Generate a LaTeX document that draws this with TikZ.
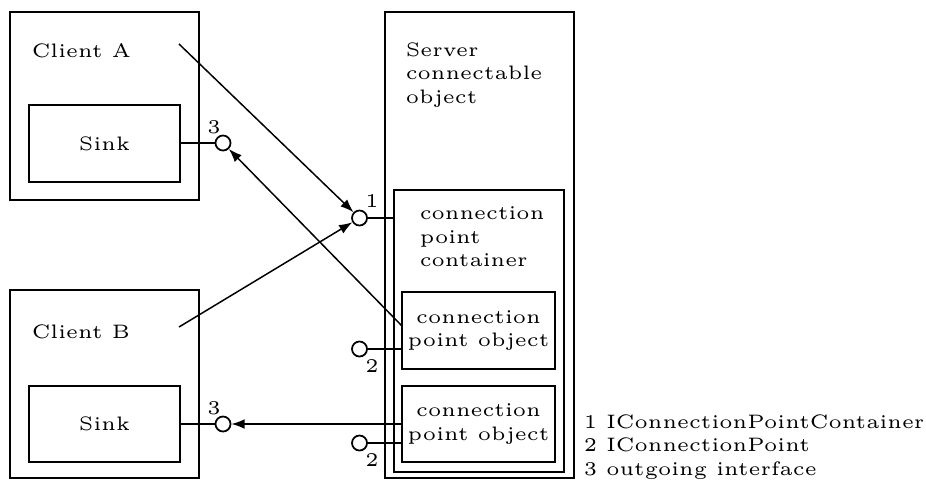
\documentclass[tikz,border=0pt]{standalone}
\usetikzlibrary{arrows.meta,fit}
\begin{document}
\begin{tikzpicture}[
  x=0.2564pt, y=-0.2564pt,
  every node/.style={font=\tiny},
  box/.style={draw, line width=0.5pt, inner sep=0pt},
  txt/.style={inner sep=0pt, align=left},
  iface/.style={draw, circle, line width=0.45pt, fill=white, inner sep=0pt, minimum size=3.85pt},
  stub/.style={line width=0.5pt},
  arr/.style={line width=0.38pt, -{Latex[length=3.4pt,width=2.5pt]}},
  num/.style={inner sep=0pt}
]
\useasboundingbox (0,0) rectangle (926,482);

% clients and their sinks
\node[box, fit={(10,12) (199,200)}] (clientA) {};
\node[box, fit={(29,105) (180,182)}] (sinkA) {};
\node[box, fit={(10,290) (199,478)}] (clientB) {};
\node[box, fit={(29,386) (180,462)}] (sinkB) {};
\node[txt, anchor=base west] (clientAlbl) at (31,57) {Client A};
\node[txt, anchor=base west] (clientBlbl) at (31,338) {Client B};
\node (sinkAlbl) at (sinkA.center) {Sink};
\node (sinkBlbl) at (sinkB.center) {Sink};

% server side
\node[box, fit={(385,12) (574,478)}] (server) {};
\node[box, fit={(394,190) (564,472)}] (cont) {};
\node[box, fit={(402,292) (555,369)}] (cpo1) {};
\node[box, fit={(402,386) (555,462)}] (cpo2) {};
\node[txt, anchor=north west] (serverlbl) at (405,42) {Server\\connectable\\object};
\node[txt, anchor=north west] (contlbl) at (419,206) {connection\\point\\container};
\node[align=center, inner sep=0pt] (cpo1lbl) at (cpo1.center) {connection\\point object};
\node[align=center, inner sep=0pt] (cpo2lbl) at (cpo2.center) {connection\\point object};

% interfaces
\node[iface] (i3a) at (223,143) {};
\node[iface] (i1) at (359.5,218) {};
\node[iface] (i2a) at (359.5,349) {};
\node[iface] (i2b) at (359.5,443) {};
\node[iface] (i3b) at (223,424) {};

\draw[stub] (sinkA.east |- i3a) -- (i3a);
\draw[stub] (i1) -- (i1 -| cont.west);
\draw[stub] (i2a) -- (i2a -| cpo1.west);
\draw[stub] (i2b) -- (i2b -| cpo2.west);
\draw[stub] (sinkB.east |- i3b) -- (i3b);

\node[num] (n3a) at (214,127) {3};
\node[num] (n1) at (372,201) {1};
\node[num] (n2a) at (372,366) {2};
\node[num] (n2b) at (372,460) {2};
\node[num] (n3b) at (214,408) {3};

% connections
\coordinate (fromA) at (179,44);
\coordinate (fromB) at (179,327);
\coordinate (fromCpo1) at (402,326);
\draw[arr] (fromA) -- (i1);
\draw[arr] (fromB) -- (i1);
\draw[arr] (fromCpo1) -- (i3a);
\draw[arr] (cpo2.west |- i3b) -- (i3b);

% key (base anchor sits on the last line)
\node[txt, anchor=base west] (legend) at (583,475) {1 IConnectionPointContainer\\2 IConnectionPoint\\3 outgoing interface};
\end{tikzpicture}
\end{document}
